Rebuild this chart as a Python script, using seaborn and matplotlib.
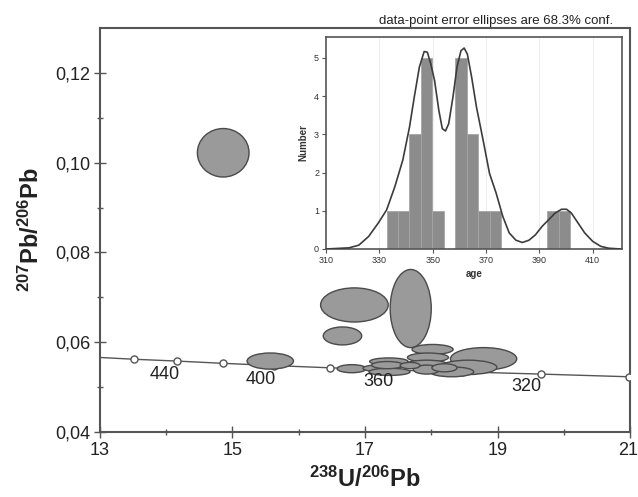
import numpy as np
import pandas as pd
import matplotlib
matplotlib.use("Agg")
import matplotlib.pyplot as plt
import matplotlib.transforms as mtransforms
from matplotlib.patches import Ellipse
import seaborn as sns

# ---------------- data ----------------
# error ellipses: centre (238U/206Pb, 207Pb/206Pb) and half-axes
ell_x  = [14.86, 15.57, 16.84, 16.66, 17.69, 18.02, 17.95, 18.79, 18.56, 18.31,
          16.80, 17.36, 17.25, 17.37, 17.34, 17.93, 17.93, 18.20, 17.68]
ell_y  = [0.1022, 0.0558, 0.0683, 0.0614, 0.0675, 0.0584, 0.0566, 0.0563, 0.0544, 0.0534,
          0.0541, 0.0557, 0.0542, 0.0534, 0.0549, 0.0552, 0.0539, 0.0543, 0.0548]
ell_hx = [0.39, 0.35, 0.51, 0.29, 0.31, 0.31, 0.31, 0.50, 0.43, 0.33,
          0.22, 0.29, 0.28, 0.31, 0.24, 0.30, 0.20, 0.19, 0.15]
ell_hy = [0.0054, 0.0018, 0.0038, 0.0020, 0.0087, 0.0011, 0.0010, 0.0025, 0.0016, 0.0011,
          0.0009, 0.0008, 0.0008, 0.0008, 0.0008, 0.0008, 0.0010, 0.0009, 0.0007]

# concordia curve (line) and age markers
conc_x = [13.00, 13.52, 14.16, 14.85, 15.62, 16.47, 17.41, 18.46, 19.65, 20.99]
conc_y = [0.0566, 0.0562, 0.0558, 0.0553, 0.0548, 0.0543, 0.0538, 0.0534, 0.0529, 0.0523]
mark_age = [460, 440, 420, 400, 380, 360, 340, 320, 300]
mark_x = [13.52, 14.16, 14.85, 15.62, 16.47, 17.41, 18.46, 19.65, 20.99]
mark_y = [0.0562, 0.0558, 0.0553, 0.0548, 0.0543, 0.0538, 0.0534, 0.0529, 0.0523]
age_labels = ["440", "400", "360", "320"]
age_label_x = [13.97, 15.43, 17.20, 19.44]
age_label_y = [0.0527, 0.0518, 0.0512, 0.0501]

x_ticks = [13, 15, 17, 19, 21]
x_tick_labels = ["13", "15", "17", "19", "21"]
y_ticks = [0.04, 0.06, 0.08, 0.10, 0.12]
y_tick_labels = ["0,04", "0,06", "0,08", "0,10", "0,12"]

# inset histogram of ages
hist_start = 332.7
hist_width = 4.3
hist_counts = [1, 1, 3, 5, 1, 0, 5, 3, 1, 1, 0, 0, 0, 0, 1, 1]

# inset probability curve
pdf_age = [310, 318.6, 322.3, 326.0, 329.6, 332.7, 335.8, 338.8, 341.3, 343.1, 345.0,
           346.8, 348.0, 349.3, 350.7, 352.3, 353.6, 354.8, 356.0, 357.6, 359.1, 360.6,
           361.8, 363.0, 364.6, 366.4, 368.9, 371.3, 373.8, 376.3, 378.7, 381.2, 383.6,
           386.1, 388.5, 391.0, 393.4, 395.9, 398.3, 400.2, 402.0, 404.5, 407.0, 410.0,
           413.0, 416.0, 420.5]
pdf_val = [0.0, 0.03, 0.10, 0.33, 0.68, 1.02, 1.63, 2.33, 3.19, 3.98, 4.76,
           5.17, 5.15, 4.84, 4.41, 3.63, 3.15, 3.09, 3.28, 3.98, 4.76, 5.19,
           5.26, 5.10, 4.50, 3.72, 2.85, 1.98, 1.46, 0.85, 0.42, 0.23, 0.17,
           0.23, 0.37, 0.59, 0.76, 0.94, 1.04, 1.04, 0.94, 0.68, 0.42, 0.20,
           0.07, 0.02, 0.0]
inset_x_ticks = [310, 330, 350, 370, 390, 410]
inset_y_ticks = [0, 1, 2, 3, 4, 5]

# ---------------- style ----------------
sns.set_style("ticks")
plt.rcParams["font.family"] = ["Liberation Sans", "DejaVu Sans"]
plt.rcParams["mathtext.fontset"] = "custom"
plt.rcParams["mathtext.rm"] = "Liberation Sans"
plt.rcParams["mathtext.bf"] = "Liberation Sans:bold"

SPINE = "#555555"
TXT = "#222222"

fig = plt.figure(figsize=(6.38, 4.97), dpi=100)
ax = fig.add_axes([0.1567, 0.1308, 0.8308, 0.8129])

# concordia
sns.lineplot(x=conc_x, y=conc_y, ax=ax, color="#555555", linewidth=1.0,
             sort=False, estimator=None, zorder=2)
sns.scatterplot(x=mark_x, y=mark_y, ax=ax, s=26, marker="o", facecolor="white",
                edgecolor="#555555", linewidth=1.0, zorder=3)

# ellipses
for cx, cy, hx, hy in zip(ell_x, ell_y, ell_hx, ell_hy):
    ax.add_patch(Ellipse((cx, cy), 2 * hx, 2 * hy, facecolor="#9a9a9a",
                         edgecolor="#4a4a4a", linewidth=1.0, zorder=4))

for t, lx, ly in zip(age_labels, age_label_x, age_label_y):
    ax.text(lx, ly, t, ha="center", va="center", fontsize=13, color=TXT, zorder=5)

ax.set_xlim(13, 21)
ax.set_ylim(0.04, 0.13)
ax.set_xticks(x_ticks)
ax.set_xticklabels(x_tick_labels)
ax.set_yticks(y_ticks)
ax.set_yticklabels(y_tick_labels)
ax.set_xticks([14, 16, 18, 20], minor=True)
ax.set_yticks([0.05, 0.07, 0.09, 0.11], minor=True)
ax.tick_params(which="major", direction="inout", length=8, width=1.0, color=SPINE,
               labelsize=13, labelcolor=TXT, pad=3)
ax.tick_params(which="minor", direction="inout", length=5, width=1.0, color=SPINE)
# keep the last x tick label inside the figure edge
last = ax.get_xticklabels()[-1]
last.set_horizontalalignment("right")
last.set_transform(last.get_transform() +
                   mtransforms.ScaledTranslation(8 / 100, 0, fig.dpi_scale_trans))
for s in ax.spines.values():
    s.set_visible(True)
    s.set_color(SPINE)
    s.set_linewidth(1.5)
ax.set_xlabel(r"$\mathbf{^{238}U/^{206}Pb}$", fontsize=17, color=TXT, labelpad=6)
ax.set_ylabel(r"$\mathbf{^{207}Pb/^{206}Pb}$", fontsize=17, color=TXT, labelpad=8)

fig.text(0.961, 0.958, "data-point error ellipses are 68.3% conf.", ha="right",
         va="center", fontsize=9.5, color=TXT)

# ---------------- inset ----------------
ins = fig.add_axes([0.511, 0.499, 0.464, 0.4266])
n_bins = len(hist_counts)
centers = hist_start + hist_width * (np.arange(n_bins) + 0.5)
hist_df = pd.DataFrame({"age": centers, "count": hist_counts})
sns.histplot(data=hist_df, x="age", weights="count", binwidth=hist_width,
             binrange=(hist_start, hist_start + hist_width * n_bins), ax=ins,
             color="#8c8c8c", edgecolor="#a5a5a5", linewidth=0.6, alpha=1.0, zorder=2)
sns.lineplot(x=pdf_age, y=pdf_val, ax=ins, color="#3c3c3c", linewidth=1.2,
             sort=False, estimator=None, zorder=3)
ins.set_xlim(310, 421)
ins.set_ylim(0, 5.55)
ins.set_xticks(inset_x_ticks)
ins.set_yticks(inset_y_ticks)
for gx in [330, 350, 370, 390, 410]:
    ins.axvline(gx, color="#eeeeee", linewidth=0.8, zorder=0)
ins.tick_params(direction="out", length=3, width=0.8, color=SPINE, labelsize=6.5,
                labelcolor="#333333", pad=2)
for s in ins.spines.values():
    s.set_visible(True)
    s.set_color(SPINE)
    s.set_linewidth(1.2)
ins.set_xlabel("age", fontsize=7, fontweight="bold", color="#333333", labelpad=3)
ins.set_ylabel("Number", fontsize=7, fontweight="bold", color="#333333", labelpad=4)

fig.savefig("out.png", dpi=100)
